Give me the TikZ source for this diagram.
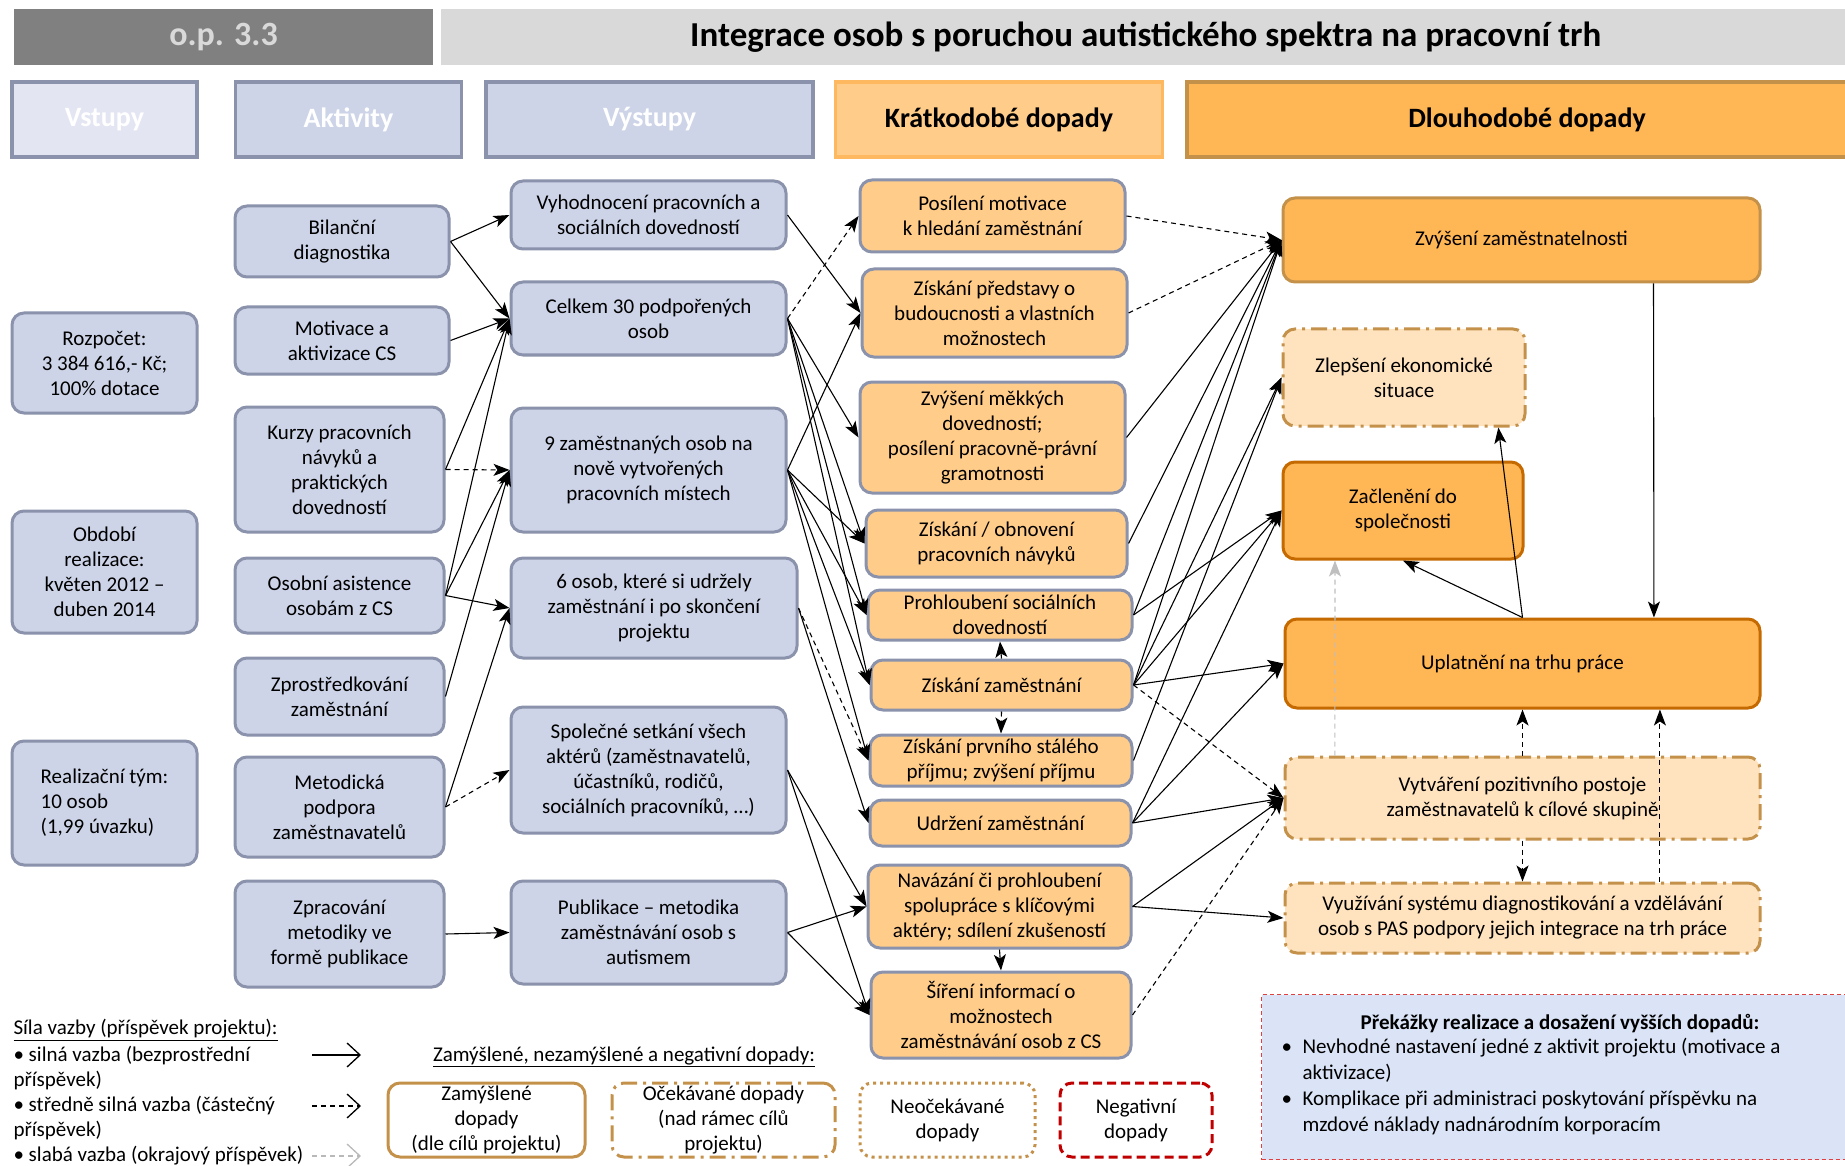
\documentclass[tikz,border=0pt]{standalone}
\usepackage{fontspec}
\setmainfont{Carlito}
\usepackage{xcolor}
\definecolor{inblue}{HTML}{CDD4E8}
\definecolor{inlight}{HTML}{E3E6F2}
\definecolor{inedge}{HTML}{8A92AC}
\definecolor{shortfill}{HTML}{FFCC8A}
\definecolor{shortedge}{HTML}{FDB860}
\definecolor{longfill}{HTML}{FFB655}
\definecolor{longpale}{HTML}{FFE3BF}
\definecolor{longedge}{HTML}{C4914B}
\definecolor{longdark}{HTML}{C46A00}
\definecolor{headdark}{HTML}{808080}
\definecolor{headlight}{HTML}{D9D9D9}
\definecolor{obstfill}{HTML}{DAE4F6}
\definecolor{obstedge}{HTML}{E04040}
\definecolor{negred}{HTML}{C00000}
\usepackage{tikz}
\usetikzlibrary{shapes,arrows,arrows.meta,positioning,calc}

\begin{document}
\begin{tikzpicture}[x=1pt, y=-1pt,
        font=\fontsize{21}{25}\selectfont,
        sz/.style 2 args={minimum width=#1pt, minimum height=#2pt},
        box/.style={rectangle, rounded corners=12pt, line width=3pt, align=center, inner sep=2pt},
        inbox/.style={box, draw=inedge, fill=inblue},
        shortbox/.style={box, draw=inedge, fill=shortfill},
        longbox/.style={box, draw=longedge, fill=longfill},
        darkbox/.style={box, draw=longdark, fill=longfill},
        palebox/.style={box, draw=longedge, fill=longpale, dash pattern=on 16pt off 6pt on 3pt off 6pt},
        headbox/.style={rectangle, line width=3.5pt, align=center, font=\fontsize{28}{32}\selectfont\bfseries},
        link/.style={->, line width=1.1pt, >={Stealth[length=16pt,width=12pt,inset=4pt]}},
        dlink/.style={link, dash pattern=on 5pt off 4pt},
        glink/.style={dlink, draw=gray!50},
        leg/.style={-{Straight Barb[length=13pt,width=24pt]}, line width=1.3pt}
    ]
        \useasboundingbox (0,0) rectangle (1845,1166);

        % title bar
        \node[headbox, fill=headdark, text=headlight, sz={419}{56}, font=\fontsize{34}{38}\selectfont\bfseries] (op) at (223.5,37) {o.p. 3.3};
        \node[headbox, fill=headlight, sz={1410}{56}, anchor=west, font=\fontsize{35}{40}\selectfont\bfseries] (title) at (439,37) {Integrace osob s poruchou autistického spektra na pracovní trh};

        % column heads
        \node[headbox, draw=inedge, fill=inlight, text=white, sz={185}{75}] (hin) at (104.5,119.5) {Vstupy};
        \node[headbox, draw=inedge, fill=inblue, text=white, sz={226}{75}, right=35pt of hin] (hact) {Aktivity};
        \node[headbox, draw=inedge, fill=inblue, text=white, sz={327}{75}, right=21pt of hact] (hout) {Výstupy};
        \node[headbox, draw=shortedge, fill=shortfill, sz={327}{75}, right=19pt of hout] (hshort) {Krátkodobé dopady};
        \node[headbox, draw=longedge, fill=longfill, sz={680}{75}, right=21pt of hshort] (hlong) {Dlouhodobé dopady};

        % inputs
        \node[inbox, sz={185}{100}] (budget) at (104.5,363) {Rozpočet:\\3 384 616,- Kč;\\100\% dotace};
        \node[inbox, sz={185}{122}] (period) at (104.5,572) {Období\\realizace:\\květen 2012 –\\duben 2014};
        \node[inbox, sz={185}{124}, align=left] (team) at (104.5,803) {Realizační tým:\\10 osob\\(1,99 úvazku)};

        % activities
        \node[inbox, sz={214}{71}] (bilan) at (342,241.5) {Bilanční\\diagnostika};
        \node[inbox, sz={214}{67}] (motiv) at (342,340.5) {Motivace a\\aktivizace CS};
        \node[inbox, sz={209}{125}] (kurzy) at (339.5,469.5) {Kurzy pracovních\\návyků a\\praktických\\dovedností};
        \node[inbox, sz={209}{75}] (asist) at (339.5,595.5) {Osobní asistence\\osobám z CS};
        \node[inbox, sz={209}{77}] (zprost) at (339.5,696.5) {Zprostředkování\\zaměstnání};
        \node[inbox, sz={209}{100}] (metod) at (339.5,807) {Metodická\\podpora\\zaměstnavatelů};
        \node[inbox, sz={209}{106}] (zprac) at (339.5,934) {Zpracování\\metodiky ve\\formě publikace};

        % outputs
        \node[inbox, sz={275}{68}] (vyhod) at (648.5,215) {Vyhodnocení pracovních a\\sociálních dovedností};
        \node[inbox, sz={275}{73}] (celkem) at (648.5,318.5) {Celkem 30 podpořených\\osob};
        \node[inbox, sz={275}{124}] (devet) at (648.5,470) {9 zaměstnaných osob na\\nově vytvořených\\pracovních místech};
        \node[inbox, sz={286}{100}] (sest) at (654,608) {6 osob, které si udržely\\zaměstnání i po skončení\\projektu};
        \node[inbox, sz={275}{126}] (setkani) at (648.5,770) {Společné setkání všech\\aktérů (zaměstnavatelů,\\účastníků, rodičů,\\sociálních pracovníků, …)};
        \node[inbox, sz={275}{103}] (publ) at (648.5,932.5) {Publikace – metodika\\zaměstnávání osob s\\autismem};

        % short-term impacts
        \node[shortbox, sz={265}{72}] (motivace) at (992.5,216) {Posílení motivace\\k hledání zaměstnání};
        \node[shortbox, sz={265}{88}] (predstava) at (994.5,313) {Získání představy o\\budoucnosti a vlastních\\možnostech};
        \node[shortbox, sz={265}{111}] (mekke) at (992.5,437.5) {Zvýšení měkkých\\dovedností;\\posílení pracovně-právní\\gramotnosti};
        \node[shortbox, sz={261}{67}] (navyky) at (996.5,543.5) {Získání / obnovení\\pracovních návyků};
        \node[shortbox, sz={264}{50}, inner ysep=0pt] (socialni) at (1000,615) {Prohloubení sociálních\\dovedností};
        \node[shortbox, sz={261}{50}] (zamest) at (1001.5,685) {Získání zaměstnání};
        \node[shortbox, sz={262}{51}, inner ysep=0pt] (prijem) at (1001,760.5) {Získání prvního stálého\\příjmu; zvýšení příjmu};
        \node[shortbox, sz={261}{46}] (udrzeni) at (1000.5,823) {Udržení zaměstnání};
        \node[shortbox, sz={263}{83}] (spoluprace) at (999.5,906.5) {Navázání či prohloubení\\spolupráce s klíčovými\\aktéry; sdílení zkušeností};
        \node[shortbox, sz={260}{86}] (sireni) at (1001,1015) {Šíření informací o\\možnostech\\zaměstnávání osob z CS};

        % long-term impacts
        \node[longbox, sz={477}{84}] (zamestnatelnost) at (1521.5,240) {Zvýšení zaměstnatelnosti};
        \node[palebox, sz={242}{97}] (ekonom) at (1404,377.5) {Zlepšení ekonomické\\situace};
        \node[darkbox, sz={240}{97}] (spolecnost) at (1403,510.5) {Začlenění do\\společnosti};
        \node[darkbox, sz={475}{89}] (trh) at (1522.5,663.5) {Uplatnění na trhu práce};
        \node[palebox, sz={475}{82}] (postoj) at (1522.5,798) {Vytváření pozitivního postoje\\zaměstnavatelů k cílové skupině};
        \node[palebox, sz={475}{70}] (system) at (1522.5,918) {Využívání systému diagnostikování a vzdělávání\\osob s PAS podpory jejich integrace na trh práce};

        % obstacles
        \node[draw=obstedge, fill=obstfill, line width=1.2pt, dash pattern=on 4pt off 3pt, sz={592}{165}, anchor=north west] (obst) at (1261,994) {};
        \node[font=\fontsize{21}{25}\selectfont\bfseries] (obsttitle) at (1560,1024) {Překážky realizace a dosažení vyšších dopadů:};
        \node[anchor=west, align=left, font=\fontsize{21}{26}\selectfont] (obstlist) at (1278,1087) {•\enspace Nevhodné nastavení jedné z aktivit projektu (motivace a\\\phantom{•\enspace}aktivizace)\\•\enspace Komplikace při administraci poskytování příspěvku na\\\phantom{•\enspace}mzdové náklady nadnárodním korporacím};

        % legend
        \node[anchor=west] (silatitle) at (10,1030) {\underline{Síla vazby (příspěvek projektu):}};
        \node[anchor=west, align=left] (silatext) at (10,1105.5) {• silná vazba (bezprostřední\\příspěvek)\\• středně silná vazba (částečný\\příspěvek)\\• slabá vazba (okrajový příspěvek)};
        \coordinate (strongA) at (312,1055);
        \coordinate (strongB) at (361,1055);
        \coordinate (mediumA) at (312,1106);
        \coordinate (mediumB) at (361,1106);
        \coordinate (weakA) at (312,1156);
        \coordinate (weakB) at (361,1156);
        \draw[leg] (strongA) -- (strongB);
        \draw[leg, dash pattern=on 5pt off 4pt] (mediumA) -- (mediumB);
        \draw[leg, draw=gray!55, dash pattern=on 5pt off 4pt] (weakA) -- (weakB);
        \node (kindtitle) at (624,1057) {\underline{Zamýšlené, nezamýšlené a negativní dopady:}};
        \node[box, draw=longedge, fill=white, sz={197}{74}, inner ysep=0pt] (intended) at (486.5,1120) {Zamýšlené\\dopady\\(dle cílů projektu)};
        \node[box, draw=longedge, fill=white, sz={223}{74}, inner ysep=0pt, dash pattern=on 16pt off 6pt on 3pt off 6pt] (expected) at (723.5,1120) {Očekávané dopady\\(nad rámec cílů\\projektu)};
        \node[box, draw=longedge, fill=white, sz={175}{74}, dash pattern=on 3pt off 4pt] (unexpected) at (947.5,1120) {Neočekávané\\dopady};
        \node[box, draw=negred, fill=white, sz={152}{74}, dash pattern=on 9pt off 5pt] (negative) at (1136,1120) {Negativní\\dopady};

        % activities -> outputs
        \draw[link] (bilan.east) -- (vyhod.west);
        \draw[link] (bilan.east) -- (celkem.west);
        \draw[link] (motiv.east) -- (celkem.west);
        \draw[link] (kurzy.east) -- (celkem.west);
        \draw[dlink] (kurzy.east) -- (devet.west);
        \draw[link] (asist.east) -- (celkem.west);
        \draw[link] (asist.east) -- (devet.west);
        \draw[link] (asist.east) -- (sest.west);
        \draw[link] (zprost.east) -- (devet.west);
        \draw[link] (metod.east) -- (sest.west);
        \draw[dlink] (metod.east) -- (setkani.west);
        \draw[link] (zprac.east) -- (publ.west);

        % outputs -> short-term
        \draw[link] (vyhod.east) -- (predstava.west);
        \draw[dlink] (celkem.east) -- (motivace.west);
        \draw[link] (celkem.east) -- (mekke.west);
        \draw[link] (celkem.east) -- (navyky.west);
        \draw[link] (celkem.east) -- (socialni.west);
        \draw[link] (celkem.east) -- (zamest.west);
        \draw[link] (devet.east) -- (predstava.west);
        \draw[link] (devet.east) -- (navyky.west);
        \draw[link] (devet.east) -- (socialni.west);
        \draw[link] (devet.east) -- (zamest.west);
        \draw[link] (devet.east) -- (prijem.west);
        \draw[dlink] (sest.east) -- (prijem.west);
        \draw[link] (sest.east) -- (udrzeni.west);
        \draw[link] (setkani.east) -- (spoluprace.west);
        \draw[link] (setkani.east) -- (sireni.west);
        \draw[link] (publ.east) -- (spoluprace.west);
        \draw[link] (publ.east) -- (sireni.west);

        % inside short-term
        \draw[link] (zamest.north) -- (socialni.south);
        \draw[dlink] (zamest.south) -- (prijem.north);
        \draw[link] (spoluprace.south) -- (sireni.north);

        % short-term -> long-term
        \draw[dlink] (motivace.east) -- (zamestnatelnost.west);
        \draw[dlink] (predstava.east) -- (zamestnatelnost.west);
        \draw[link] (mekke.east) -- (zamestnatelnost.west);
        \draw[link] (navyky.east) -- (zamestnatelnost.west);
        \draw[link] (socialni.east) -- (zamestnatelnost.west);
        \draw[link] (zamest.east) -- (zamestnatelnost.west);
        \draw[link] (zamest.east) -- (ekonom.west);
        \draw[link] (prijem.east) -- (ekonom.west);
        \draw[link] (socialni.east) -- (spolecnost.west);
        \draw[link] (zamest.east) -- (spolecnost.west);
        \draw[link] (udrzeni.east) -- (spolecnost.west);
        \draw[link] (zamest.east) -- (trh.west);
        \draw[link] (udrzeni.east) -- (trh.west);
        \draw[dlink] (zamest.east) -- (postoj.west);
        \draw[link] (udrzeni.east) -- (postoj.west);
        \draw[link] (spoluprace.east) -- (postoj.west);
        \draw[dlink] (sireni.east) -- (postoj.west);
        \draw[link] (spoluprace.east) -- (system.west);

        % inside long-term
        \draw[link] ($(zamestnatelnost.south)!0.55!(zamestnatelnost.south east)$) -- ($(trh.north)!0.55!(trh.north east)$);
        \draw[link] (trh.north) -- ($(ekonom.south)!0.77!(ekonom.south east)$);
        \draw[link] (trh.north) -- (spolecnost.south);
        \draw[glink] ($(postoj.north)!0.785!(postoj.north west)$) -- ($(spolecnost.south)!0.56!(spolecnost.south west)$);
        \draw[dlink] (postoj.north) -- (trh.south);
        \draw[dlink] (postoj.south) -- (system.north);
        \draw[dlink] ($(system.north)!0.575!(system.north east)$) -- ($(trh.south)!0.575!(trh.south east)$);
    \end{tikzpicture}
\end{document}
